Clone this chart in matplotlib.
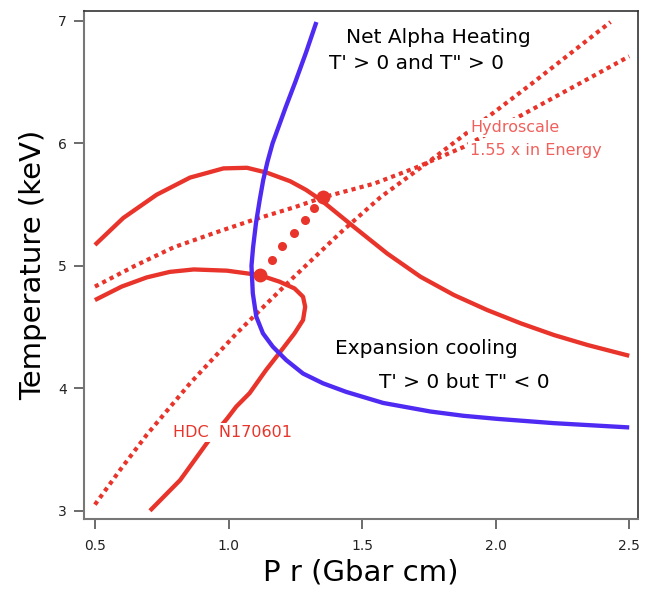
import matplotlib
matplotlib.use("Agg")
import matplotlib.pyplot as plt

# Ignition boundary (blue)
blue_pr = [1.329, 1.290, 1.250, 1.215, 1.190, 1.165, 1.146, 1.130, 1.117, 1.103, 1.092,
           1.086, 1.091, 1.104, 1.129, 1.166, 1.216, 1.279, 1.354, 1.441, 1.579, 1.756,
           1.880, 2.006, 2.218, 2.500]
blue_t = [6.99, 6.74, 6.50, 6.30, 6.15, 6.00, 5.85, 5.70, 5.54, 5.35, 5.15,
          5.00, 4.775, 4.584, 4.448, 4.339, 4.23, 4.12, 4.04, 3.97, 3.88, 3.81,
          3.775, 3.75, 3.715, 3.68]

# Hydroscaled trajectory (upper red)
scaled_pr = [0.500, 0.606, 0.731, 0.856, 0.981, 1.069, 1.144, 1.231, 1.290, 1.344, 1.469,
             1.594, 1.719, 1.844, 1.969, 2.094, 2.219, 2.344, 2.500]
scaled_t = [5.17, 5.39, 5.58, 5.72, 5.795, 5.80, 5.76, 5.69, 5.62, 5.54, 5.318,
            5.10, 4.91, 4.761, 4.638, 4.53, 4.434, 4.353, 4.265]

# HDC N170601 trajectory (lower red)
hdc_pr = [0.500, 0.600, 0.694, 0.780, 0.870, 0.994, 1.116, 1.191, 1.247, 1.279, 1.287, 1.279,
          1.247, 1.204, 1.141, 1.079, 1.029, 0.994, 0.925, 0.819, 0.706]
hdc_t = [4.72, 4.83, 4.905, 4.95, 4.97, 4.96, 4.924, 4.87, 4.815, 4.747, 4.665, 4.557,
         4.448, 4.326, 4.15, 3.96, 3.85, 3.75, 3.57, 3.25, 3.00]

# dotted guide lines
steep_pr = [0.500, 0.600, 0.694, 0.856, 1.031, 1.231, 1.419, 1.569, 1.750, 1.962, 2.131, 2.430]
steep_t = [3.05, 3.35, 3.62, 4.04, 4.45, 4.88, 5.27, 5.56, 5.85, 6.20, 6.48, 6.99]
flat_pr = [0.500, 0.650, 0.794, 0.950, 1.100, 1.250, 1.356, 1.544, 1.700, 1.880, 2.131, 2.500]
flat_t = [4.83, 5.00, 5.15, 5.27, 5.38, 5.48, 5.56, 5.67, 5.80, 5.97, 6.27, 6.71]

# scaling points
end_pr = [1.119, 1.354]
end_t = [4.924, 5.558]
mid_pr = [1.163, 1.200, 1.247, 1.287, 1.319]
mid_t = [5.05, 5.163, 5.27, 5.373, 5.468]

red = "#e8342a"
blue = "#4f2af2"
pink = "#f0605c"

fig = plt.figure(figsize=(6.54, 5.92), dpi=100)
ax = fig.add_axes([0.1284, 0.1228, 0.8476, 0.8586])

ax.plot(steep_pr, steep_t, color=red, lw=3, dashes=(1, 1), dash_capstyle="butt")
ax.plot(flat_pr, flat_t, color=red, lw=3, dashes=(1, 1), dash_capstyle="butt")
ax.plot(scaled_pr, scaled_t, color=red, lw=3.1, solid_capstyle="butt", solid_joinstyle="round")
ax.plot(hdc_pr, hdc_t, color=red, lw=3.1, solid_capstyle="butt", solid_joinstyle="round")
ax.plot(blue_pr, blue_t, color=blue, lw=3.1, solid_capstyle="butt", solid_joinstyle="round")
ax.plot(mid_pr, mid_t, "o", color=red, ms=6.5, mec="none")
ax.plot(end_pr, end_t, "o", color=red, ms=10, mec="none")

ax.text(1.784, 6.82, "Net Alpha Heating", fontsize=14.5, ha="center", va="baseline")
ax.text(1.703, 6.61, "T' > 0 and T\" > 0", fontsize=14.5, ha="center", va="baseline")
ax.text(1.740, 4.277, "Expansion cooling", fontsize=14.5, ha="center", va="baseline")
ax.text(1.884, 4.0, "T' > 0 but T\" < 0", fontsize=14.5, ha="center", va="baseline")

box = dict(facecolor="white", edgecolor="none", pad=1.5)
ax.text(1.905, 6.095, "Hydroscale", fontsize=11.5, color=pink, va="baseline", bbox=box)
ax.text(1.905, 5.904, "1.55 x in Energy", fontsize=11.5, color=pink, va="baseline", bbox=box)
ax.text(0.794, 3.60, "HDC  N170601", fontsize=11.5, color=red, va="baseline", bbox=box)

ax.set_xlim(0.459, 2.534)
ax.set_ylim(2.93, 7.08)
ax.set_xticks([0.5, 1.0, 1.5, 2.0, 2.5])
ax.set_yticks([3, 4, 5, 6, 7])
ax.tick_params(direction="out", length=7.5, width=1.1, colors="#444444",
               labelsize=10, labelcolor="#222222")
ax.tick_params(axis="x", pad=7)
ax.tick_params(axis="y", pad=5)
for side in ["left", "bottom"]:
    ax.spines[side].set_color("#777777")
    ax.spines[side].set_linewidth(1.5)
for side in ["top", "right"]:
    ax.spines[side].set_color("#333333")
    ax.spines[side].set_linewidth(1.2)

ax.set_xlabel("P r (Gbar cm)", fontsize=21, labelpad=4)
ax.set_ylabel("Temperature (keV)", fontsize=21, labelpad=8)

fig.savefig("out.png", dpi=100)
